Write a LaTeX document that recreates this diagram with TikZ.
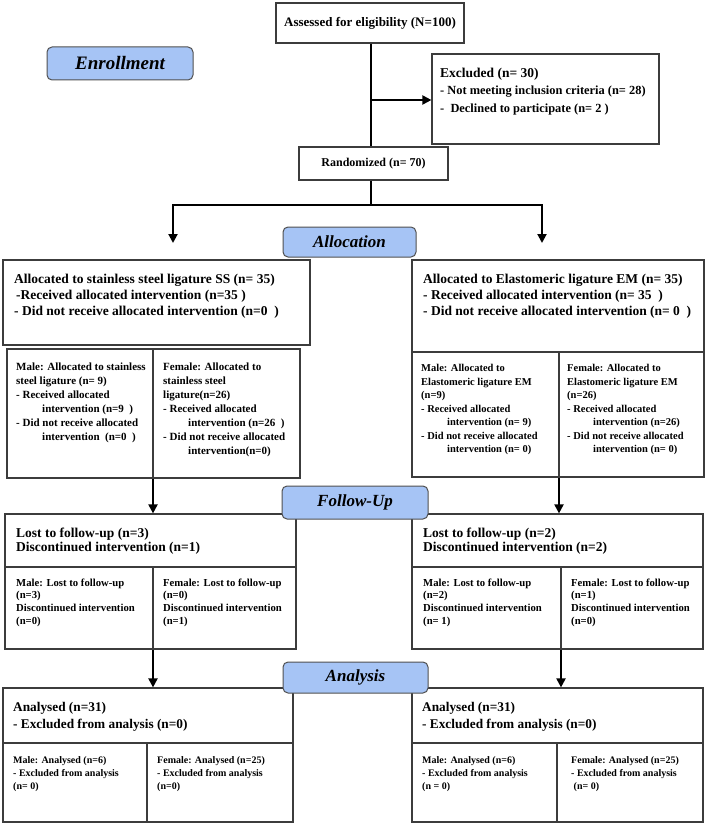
\documentclass[tikz,border=0pt]{standalone}
\usepackage{fontspec}
\setmainfont{Liberation Serif}
\usetikzlibrary{arrows.meta,fit,positioning}
\definecolor{labblue}{RGB}{166,196,245}
\definecolor{boxgray}{RGB}{60,60,60}
\newcommand{\myfs}[2]{\fontsize{#1}{#2}\selectfont\bfseries}
\begin{document}
\begin{tikzpicture}[x=1pt,y=-1pt,
  box/.style={draw=boxgray, line width=1.2pt, inner sep=0pt, rectangle},
  divline/.style={draw=boxgray, line width=1.2pt},
  lab/.style={draw=boxgray!90, fill=labblue, rounded corners=5pt, line width=1pt, inner sep=0pt,
    font=\fontsize{17}{20}\selectfont\bfseries\itshape},
  conn/.style={draw=black, line width=2pt, -{Triangle[length=9pt,width=9pt]}},
  plain/.style={draw=black, line width=2pt},
  txt/.style={anchor=north west, inner sep=0pt, align=left},
  big/.style={txt, font=\myfs{13.5}{16}},
  small/.style={txt, font=\myfs{11}{14}},
  fu/.style={txt, font=\myfs{10.7}{12.7}},
  an/.style={txt, font=\myfs{10}{13}}]
\useasboundingbox (0,0) rectangle (708,824);

% ---------- boxes ----------
\node[box, fit={(276,3) (464,43)}] (assess) {};
\node[box, fit={(432,54) (659,144)}] (excl) {};
\node[box, fit={(299,147) (448,180)}] (rand) {};
\node[box, fit={(3,260) (310,345)}] (allocL) {};
\node[box, fit={(7,349) (300,478)}] (subL) {};
\node[box, fit={(412,260) (704,477)}] (allocR) {};
\node[box, fit={(5,514) (296,649)}] (fuL) {};
\node[box, fit={(412,514) (703,649)}] (fuR) {};
\node[box, fit={(3,688) (293,822)}] (anL) {};
\node[box, fit={(412,688) (703,822)}] (anR) {};

% dividers
\draw[divline] (153,349) -- (153,478);
\draw[divline] (412,352) -- (704,352);
\draw[divline] (559,352) -- (559,477);
\draw[divline] (5,567) -- (296,567);
\draw[divline] (153,567) -- (153,649);
\draw[divline] (412,567) -- (703,567);
\draw[divline] (561,567) -- (561,649);
\draw[divline] (3,743) -- (293,743);
\draw[divline] (147,743) -- (147,822);
\draw[divline] (412,743) -- (703,743);
\draw[divline] (557,743) -- (557,822);

% ---------- connectors ----------
\coordinate (vx) at (371,0);
\coordinate (j1) at (371,100);
\coordinate (split) at (371,205);
\coordinate (la) at (173,243);
\coordinate (ra) at (542,243);
\coordinate (dL) at (153,0);
\coordinate (dR) at (559,0);
\coordinate (dR2) at (561,0);
\draw[plain] (assess.south -| vx) -- (rand.north -| vx);
\draw[conn] (j1) -- (j1 -| excl.west);
\draw[plain] (rand.south -| vx) -- (split);
\draw[conn] (split) -| (la);
\draw[conn] (split) -| (ra);
\draw[conn] (subL.south -| dL) -- (fuL.north -| dL);
\draw[conn] (allocR.south -| dR) -- (fuR.north -| dR);
\draw[conn] (fuL.south -| dL) -- (anL.north -| dL);
\draw[conn] (fuR.south -| dR2) -- (anR.north -| dR2);

% ---------- phase labels ----------
\node[lab, minimum width=146pt, minimum height=33pt, font=\fontsize{19}{22}\selectfont\bfseries\itshape] (enr) at (120,63.5) {Enrollment};
\node[lab, minimum width=133pt, minimum height=30pt] (alloc) at (349.5,242) {Allocation};
\node[lab, minimum width=146pt, minimum height=33pt] (follow) at (355,502.5) {Follow-Up};
\node[lab, minimum width=145pt, minimum height=31pt] (analysis) at (355.5,677.5) {Analysis};

% ---------- texts ----------
\node[inner sep=0pt, font=\myfs{13}{15}] (tassess) at (assess.center) {Assessed for eligibility (N=100)};
\node[txt, font=\myfs{12.4}{17.5}] (texcl) at (440,67.5) {{\fontsize{13.5}{17.5}\selectfont Excluded (n= 30)}\\
- Not meeting inclusion criteria (n= 28)\\
-\ \ Declined to participate (n= 2 )};
\node[inner sep=0pt, font=\myfs{12}{14}] (trand) at (rand.center) {Randomized (n= 70)};

\node[big] (tallocL) at (14,273.5) {Allocated to stainless steel ligature SS (n= 35)\\
\hspace*{2pt}-Received allocated intervention (n=35 )\\
- Did not receive allocated intervention (n=0\ \ )};
\node[big] (tallocR) at (423,273.5) {Allocated to Elastomeric ligature EM (n= 35)\\
- Received allocated intervention (n= 35\ \ )\\
- Did not receive allocated intervention (n= 0\ \ )};

\node[small] (tsubLm) at (16,362.5) {Male: Allocated to stainless\\
steel ligature (n= 9)\\
- Received allocated\\
\hspace*{26pt}intervention (n=9\ \ )\\
- Did not receive allocated\\
\hspace*{26pt}intervention\ \ (n=0\ \ )};
\node[small] (tsubLf) at (163,362.5) {Female: Allocated to\\
stainless steel\\
ligature(n=26)\\
- Received allocated\\
\hspace*{25pt}intervention (n=26\ \ )\\
- Did not receive allocated\\
\hspace*{25pt}intervention(n=0)};
\node[small, font=\myfs{10.5}{13.5}] (tsubRm) at (421,364.5) {Male: Allocated to\\
Elastomeric ligature EM\\
(n=9)\\
- Received allocated\\
\hspace*{26pt}intervention (n= 9)\\
- Did not receive allocated\\
\hspace*{26pt}intervention (n= 0)};
\node[small, font=\myfs{10.5}{13.5}] (tsubRf) at (567,364.5) {Female: Allocated to\\
Elastomeric ligature EM\\
(n=26)\\
- Received allocated\\
\hspace*{26pt}intervention (n=26)\\
- Did not receive allocated\\
\hspace*{26pt}intervention (n= 0)};

\node[big, font=\myfs{13.5}{14.7}] (tfuL) at (16,527.5) {Lost to follow-up (n=3)\\
Discontinued intervention (n=1)};
\node[fu] (tfuLm) at (16,578.5) {Male: Lost to follow-up\\(n=3)\\Discontinued intervention\\(n=0)};
\node[fu] (tfuLf) at (163,578.5) {Female: Lost to follow-up\\(n=0)\\Discontinued intervention\\(n=1)};
\node[big, font=\myfs{13.5}{14.7}] (tfuR) at (423,527.5) {Lost to follow-up (n=2)\\
Discontinued intervention (n=2)};
\node[fu] (tfuRm) at (423,578.5) {Male: Lost to follow-up\\(n=2)\\Discontinued intervention\\(n= 1)};
\node[fu] (tfuRf) at (571,578.5) {Female: Lost to follow-up\\(n=1)\\Discontinued intervention\\(n=0)};

\node[big, font=\myfs{13.3}{17}] (tanL) at (13,701.7) {Analysed (n=31)\\- Excluded from analysis (n=0)};
\node[an] (tanLm) at (13,756) {Male: Analysed (n=6)\\- Excluded from analysis\\(n= 0)};
\node[an] (tanLf) at (157,756) {Female: Analysed (n=25)\\- Excluded from analysis\\(n=0)};
\node[big, font=\myfs{13.3}{17}] (tanR) at (422,701.7) {Analysed (n=31)\\- Excluded from analysis (n=0)};
\node[an] (tanRm) at (422,756) {Male: Analysed (n=6)\\- Excluded from analysis\\(n = 0)};
\node[an] (tanRf) at (571,756) {Female: Analysed (n=25)\\- Excluded from analysis\\\ (n= 0)};
\end{tikzpicture}
\end{document}
